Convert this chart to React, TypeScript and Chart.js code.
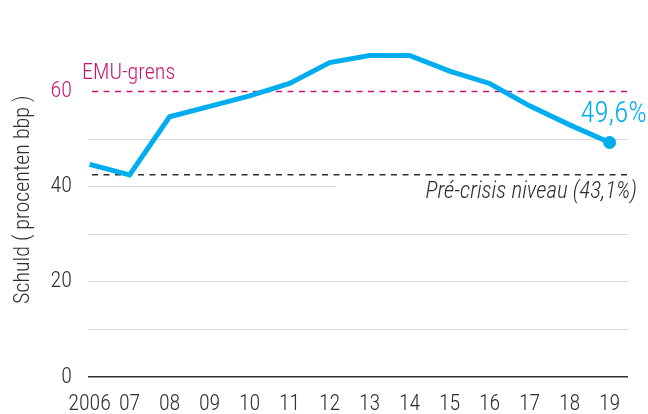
import React, { useEffect, useRef } from "react";
import { Chart, registerables } from "chart.js";

Chart.register(...registerables);

// ---- data ----
const years = [2006, 2007, 2008, 2009, 2010, 2011, 2012, 2013, 2014, 2015, 2016, 2017, 2018, 2019];
const debt = [44.7, 42.5, 54.7, 56.9, 59.1, 61.7, 66.1, 67.6, 67.6, 64.3, 61.7, 57.0, 53.0, 49.3];
const yLabelTicks = [0, 20, 40, 60];
const emuLimit = 60;
const preCrisisLevel = 42.5;
const emuLabel = "EMU-grens";
const preCrisisLabel = "Pré-crisis niveau (43,1%)";
const lastLabel = "49,6%";
const yTitle = "Schuld ( procenten bbp )";

const FONT = "'Roboto Condensed', 'Liberation Sans Narrow', 'Arial Narrow', sans-serif";
const W = 300;
const BLUE = "#00aeef";
const PINK = "#c8176f";
const DARK = "#2e2e2e";
const GRID = "#dadada";

const annotations = {
  id: "annotations",
  beforeDatasetsDraw(chart: any) {
    const { ctx, chartArea: a, scales } = chart;
    const y = scales.y;
    const x = scales.x;
    ctx.save();
    const yE = y.getPixelForValue(emuLimit);
    ctx.setLineDash([6, 5.5]);
    ctx.lineWidth = 1.5;
    ctx.strokeStyle = PINK;
    ctx.beginPath();
    ctx.moveTo(a.left + 4, yE);
    ctx.lineTo(a.right, yE);
    ctx.stroke();
    const yP = y.getPixelForValue(preCrisisLevel);
    ctx.strokeStyle = DARK;
    ctx.beginPath();
    ctx.moveTo(a.left + 4, yP);
    ctx.lineTo(a.right, yP);
    ctx.stroke();
    ctx.setLineDash([]);
    const bgX = x.getPixelForValue(2012.15);
    ctx.fillStyle = "#ffffff";
    ctx.fillRect(bgX, yP + 5, chart.width - bgX, 28);
    ctx.font = `italic ${W} 23px ${FONT}`;
    ctx.fillStyle = DARK;
    ctx.textAlign = "right";
    ctx.textBaseline = "alphabetic";
    ctx.fillText(preCrisisLabel, a.right + 9, yP + 23);
    ctx.font = `${W} 22px ${FONT}`;
    ctx.fillStyle = PINK;
    ctx.textAlign = "left";
    ctx.fillText(emuLabel, a.left - 6, yE - 13);
    ctx.restore();
  },
  afterDatasetsDraw(chart: any) {
    const { ctx, scales } = chart;
    const x = scales.x;
    const y = scales.y;
    const li = debt.length - 1;
    const px = x.getPixelForValue(years[li]);
    const py = y.getPixelForValue(debt[li]);
    ctx.save();
    ctx.font = `${W} 29px ${FONT}`;
    ctx.fillStyle = BLUE;
    ctx.textAlign = "center";
    ctx.textBaseline = "alphabetic";
    ctx.fillText(lastLabel, px + 4, py - 20);
    const cy = (y.getPixelForValue(20) + y.getPixelForValue(60)) / 2 + 13;
    ctx.translate(23, cy);
    ctx.rotate(-Math.PI / 2);
    ctx.font = `${W} 22px ${FONT}`;
    ctx.fillStyle = DARK;
    ctx.textAlign = "center";
    ctx.textBaseline = "middle";
    ctx.fillText(yTitle, 0, 0);
    ctx.restore();
  },
};

export default function App() {
  const ref = useRef<HTMLCanvasElement | null>(null);
  useEffect(() => {
    if (!ref.current) return;
    const chart = new Chart(ref.current, {
      type: "line",
      data: {
        datasets: [
          {
            data: years.map((yr, i) => ({ x: yr, y: debt[i] })),
            borderColor: BLUE,
            backgroundColor: BLUE,
            borderWidth: 5,
            pointRadius: (c: any) => (c.dataIndex === debt.length - 1 ? 6.5 : 0),
            pointBorderWidth: 0,
            pointBackgroundColor: BLUE,
            tension: 0,
            clip: false as any,
          },
        ],
      },
      options: {
        animation: false,
        responsive: true,
        maintainAspectRatio: false,
        layout: { padding: { top: 44, right: 20, left: 0, bottom: 0 } },
        plugins: { legend: { display: false }, tooltip: { enabled: false }, title: { display: false } },
        scales: {
          x: {
            type: "linear",
            min: 2005.96,
            max: 2019.46,
            grid: { display: false },
            border: { display: false },
            afterBuildTicks: (s: any) => {
              s.ticks = years.map((v) => ({ value: v }));
            },
            afterFit: (s: any) => {
              s.height = 37;
            },
            ticks: {
              autoSkip: false,
              maxRotation: 0,
              padding: 6,
              color: DARK,
              font: { family: FONT, size: 22, weight: W as any },
              callback: (v: any) => (v === years[0] ? String(v) : String(v % 100).padStart(2, "0")),
            },
          },
          y: {
            min: 0,
            max: 70,
            border: { display: false },
            afterFit: (s: any) => {
              s.width = 88;
            },
            grid: {
              drawTicks: false,
              color: (c: any) =>
                c.tick.value === 0 ? DARK : c.tick.value === emuLimit || c.tick.value === 70 ? "rgba(0,0,0,0)" : GRID,
              lineWidth: (c: any) => (c.tick.value === 0 ? 1.5 : 1),
            },
            ticks: {
              stepSize: 10,
              padding: 16,
              color: (c: any) => (c.tick.value === emuLimit ? PINK : DARK),
              font: { family: FONT, size: 22, weight: W as any },
              callback: (v: any) => (yLabelTicks.includes(v) ? String(v) : ""),
            },
          },
        },
      },
      plugins: [annotations],
    });
    return () => chart.destroy();
  }, []);
  return (
    <div style={{ position: "absolute", left: 0, top: 0, width: 648, height: 414 }}>
      <canvas ref={ref} />
    </div>
  );
}
